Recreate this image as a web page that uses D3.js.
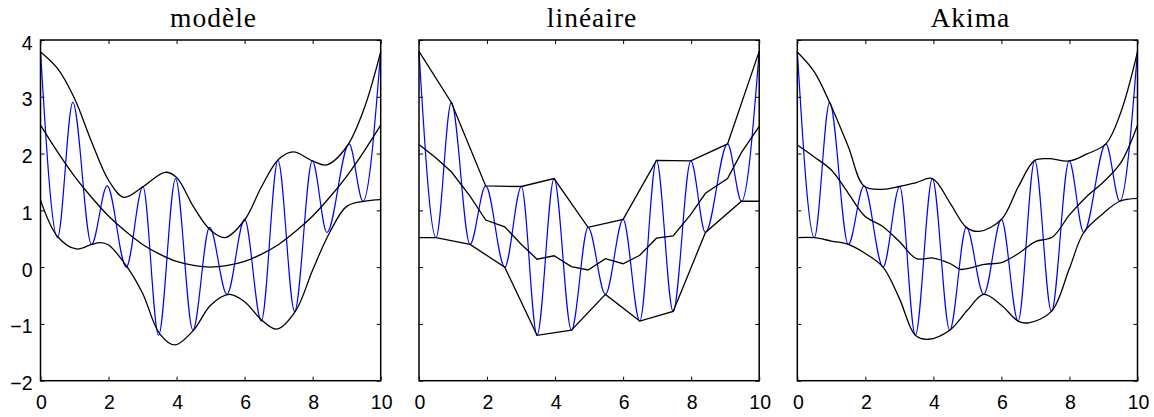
<!DOCTYPE html>
<html>
<head>
<meta charset="utf-8">
<script src="https://cdn.jsdelivr.net/npm/d3@7"></script>
<style>
  body { margin: 0; background: #fff; }
  .tick-label { font-family: "Liberation Sans", Arial, sans-serif; font-size: 19.5px; fill: #000; }
  .title { font-family: "Liberation Serif", "Times New Roman", serif; font-size: 27.5px; letter-spacing: 1px; fill: #000; }
</style>
</head>
<body>
<div id="chart-area"></div>
<script>
// Panel titles and tick values
var titles = ["modèle", "linéaire", "Akima"];
var xTicks = [0, 2, 4, 6, 8, 10];
var yTicks = [-2, -1, 0, 1, 2, 3, 4];

// Blue signal: its successive peaks and troughs (same signal in every panel)
var signalT = [0, 0.5, 0.95, 1.5, 1.96, 2.52, 3.01, 3.47, 3.97, 4.48, 4.97, 5.48, 6.0, 6.49, 6.98, 7.47, 7.99, 8.42, 9.07, 9.48, 10];
var signalV = [3.8, 0.52, 2.9, 0.40, 1.43, 0.0, 1.42, -1.2, 1.56, -1.11, 0.70, -0.48, 0.84, -0.95, 1.88, -0.78, 1.87, 0.61, 2.17, 1.16, 3.8];

// "modèle" envelopes
var modelUpperT = [0, 0.5, 1, 1.5, 2, 2.45, 3, 3.66, 4, 4.5, 5, 5.42, 6, 6.5, 7, 7.43, 8, 8.41, 9, 9.5, 10];
var modelUpperV = [3.79, 3.50, 2.97, 2.21, 1.53, 1.23, 1.41, 1.67, 1.58, 1.06, 0.65, 0.52, 0.83, 1.42, 1.90, 2.03, 1.87, 1.80, 2.12, 2.77, 3.79];
var modelLowerT = [0, 0.5, 1.05, 1.5, 1.75, 2, 2.55, 3, 3.5, 3.95, 4.5, 5, 5.55, 6, 6.5, 6.95, 7.5, 8, 8.5, 9, 9.5, 10];
var modelLowerV = [1.18, 0.54, 0.32, 0.40, 0.43, 0.39, 0.0, -0.46, -1.17, -1.37, -1.11, -0.67, -0.48, -0.61, -0.93, -1.09, -0.77, -0.05, 0.61, 1.07, 1.16, 1.19];
var modelMeanT = [0, 0.5, 1, 1.5, 2, 2.5, 3, 3.5, 4, 4.5, 5, 5.5, 6, 6.5, 7, 7.5, 8, 8.5, 9, 9.5, 10];
var modelMeanV = [2.5, 2.03, 1.6, 1.23, 0.9, 0.63, 0.4, 0.23, 0.1, 0.03, 0, 0.03, 0.1, 0.23, 0.4, 0.63, 0.9, 1.23, 1.6, 2.03, 2.5];

// "linéaire" envelopes (straight segments between knots)
var linUpperT = [0, 0.95, 1.96, 3.01, 3.97, 4.97, 6.0, 6.98, 7.99, 9.07, 10];
var linUpperV = [3.8, 2.9, 1.43, 1.42, 1.56, 0.70, 0.84, 1.88, 1.87, 2.17, 3.8];
var linLowerT = [0, 0.5, 1.5, 2.52, 3.47, 4.48, 5.48, 6.49, 7.47, 8.42, 9.48, 10];
var linLowerV = [0.52, 0.52, 0.40, 0.0, -1.2, -1.11, -0.48, -0.95, -0.78, 0.61, 1.16, 1.16];
var linMeanT = [0, 0.5, 0.95, 1.5, 1.96, 2.52, 3.01, 3.47, 3.97, 4.48, 4.97, 5.48, 6.0, 6.49, 6.98, 7.47, 7.99, 8.42, 9.07, 9.48, 10];
var linMeanV = [2.16, 1.92, 1.68, 1.25, 0.83, 0.71, 0.40, 0.14, 0.20, 0.01, -0.05, 0.15, 0.06, 0.21, 0.51, 0.55, 0.93, 1.30, 1.56, 2.02, 2.48];

// "Akima" envelopes
var akUpperT = [0, 0.5, 0.95, 1.5, 1.96, 2.5, 3.01, 3.5, 3.97, 4.5, 4.97, 5.35, 6.0, 6.5, 6.98, 7.4, 7.99, 8.5, 9.07, 9.5, 10];
var akUpperV = [3.79, 3.44, 2.9, 2.12, 1.43, 1.37, 1.42, 1.49, 1.56, 1.12, 0.70, 0.63, 0.84, 1.42, 1.88, 1.91, 1.87, 1.99, 2.17, 2.71, 3.79];
var akLowerT = [0, 0.5, 1, 1.5, 2, 2.52, 3, 3.47, 3.85, 4.48, 5, 5.48, 6, 6.49, 6.8, 7.47, 8, 8.42, 9, 9.48, 10];
var akLowerV = [0.52, 0.52, 0.46, 0.40, 0.24, 0.0, -0.55, -1.2, -1.27, -1.11, -0.76, -0.48, -0.67, -0.95, -0.98, -0.78, -0.02, 0.61, 0.95, 1.16, 1.21];
var akMeanT = [0, 0.5, 1, 1.5, 2, 2.5, 3, 3.5, 4, 4.5, 4.8, 5.5, 6, 6.5, 7, 7.5, 8, 8.5, 9, 9.5, 10];
var akMeanV = [2.15, 1.94, 1.71, 1.30, 0.89, 0.72, 0.45, 0.15, 0.16, 0.06, -0.04, 0.05, 0.08, 0.24, 0.45, 0.53, 0.92, 1.24, 1.50, 1.83, 2.50];

function pts(ts, vs) {
    return ts.map(function(t, i) { return [t, vs[i]]; });
}

var panels = [
    { title: titles[0], curve: d3.curveCatmullRom.alpha(0.5),
      env: [pts(modelUpperT, modelUpperV), pts(modelLowerT, modelLowerV), pts(modelMeanT, modelMeanV)] },
    { title: titles[1], curve: d3.curveLinear,
      env: [pts(linUpperT, linUpperV), pts(linLowerT, linLowerV), pts(linMeanT, linMeanV)] },
    { title: titles[2], curve: d3.curveCatmullRom.alpha(0.5),
      env: [pts(akUpperT, akUpperV), pts(akLowerT, akLowerV), pts(akMeanT, akMeanV)] }
];

// Layout
var W = 1154, H = 417;
var lefts = [40.5, 419, 797.3];
var pw = 340.2, plotTop = 40, ph = 340.7;
var tickLen = 4;

var svg = d3.select("#chart-area")
    .append("svg")
    .attr("width", W)
    .attr("height", H);

svg.append("rect").attr("width", W).attr("height", H).attr("fill", "#fff");

var xScale = d3.scaleLinear().domain([0, 10]).range([0, pw]);
var yScale = d3.scaleLinear().domain([-2, 4]).range([ph, 0]);

var signal = pts(signalT, signalV);

panels.forEach(function(p, k) {
    var g = svg.append("g")
        .attr("transform", "translate(" + lefts[k] + "," + plotTop + ")");

    // blue signal first, envelopes on top
    var sigLine = d3.line()
        .x(function(d) { return xScale(d[0]); })
        .y(function(d) { return yScale(d[1]); })
        .curve(d3.curveMonotoneX);

    g.append("path")
        .datum(signal)
        .attr("d", sigLine)
        .attr("fill", "none")
        .attr("stroke", "#0000ff")
        .attr("stroke-width", 1.2);

    var envLine = d3.line()
        .x(function(d) { return xScale(d[0]); })
        .y(function(d) { return yScale(d[1]); })
        .curve(p.curve);

    g.selectAll(".env")
        .data(p.env)
        .enter()
        .append("path")
        .attr("class", "env")
        .attr("d", envLine)
        .attr("fill", "none")
        .attr("stroke", "#000")
        .attr("stroke-width", 1.3);

    // box axes, ticks pointing inward on all four sides
    var xAxisB = d3.axisBottom(xScale).tickValues(xTicks).tickSizeInner(-tickLen).tickSizeOuter(0).tickFormat("");
    var xAxisT = d3.axisTop(xScale).tickValues(xTicks).tickSizeInner(-tickLen).tickSizeOuter(0).tickFormat("");
    var yAxisL = d3.axisLeft(yScale).tickValues(yTicks).tickSizeInner(-tickLen).tickSizeOuter(0).tickFormat("");
    var yAxisR = d3.axisRight(yScale).tickValues(yTicks).tickSizeInner(-tickLen).tickSizeOuter(0).tickFormat("");

    g.append("g").attr("transform", "translate(0," + ph + ")").call(xAxisB);
    g.append("g").call(xAxisT);
    g.append("g").call(yAxisL);
    g.append("g").attr("transform", "translate(" + pw + ",0)").call(yAxisR);

    g.selectAll(".domain").remove();
    g.selectAll(".tick line").attr("stroke", "#000").attr("stroke-width", 1);

    g.append("rect")
        .attr("width", pw)
        .attr("height", ph)
        .attr("fill", "none")
        .attr("stroke", "#000")
        .attr("stroke-width", 1.5);

    // x tick labels
    g.selectAll(".xlab")
        .data(xTicks)
        .enter()
        .append("text")
        .attr("class", "tick-label")
        .attr("x", function(d) { return xScale(d) + 1; })
        .attr("y", ph + 28.5)
        .attr("text-anchor", "middle")
        .text(function(d) { return d; });

    // y tick labels only on first panel
    if (k === 0) {
        g.selectAll(".ylab")
            .data(yTicks)
            .enter()
            .append("text")
            .attr("class", "tick-label")
            .attr("x", -8)
            .attr("y", function(d) { return yScale(d) + 9.5; })
            .attr("text-anchor", "end")
            .text(function(d) { return d < 0 ? "\u2212" + Math.abs(d) : d; });
    }

    g.append("text")
        .attr("class", "title")
        .attr("x", pw / 2 + 3)
        .attr("y", 26.7 - plotTop)
        .attr("text-anchor", "middle")
        .text(p.title);
});
</script>
</body>
</html>
